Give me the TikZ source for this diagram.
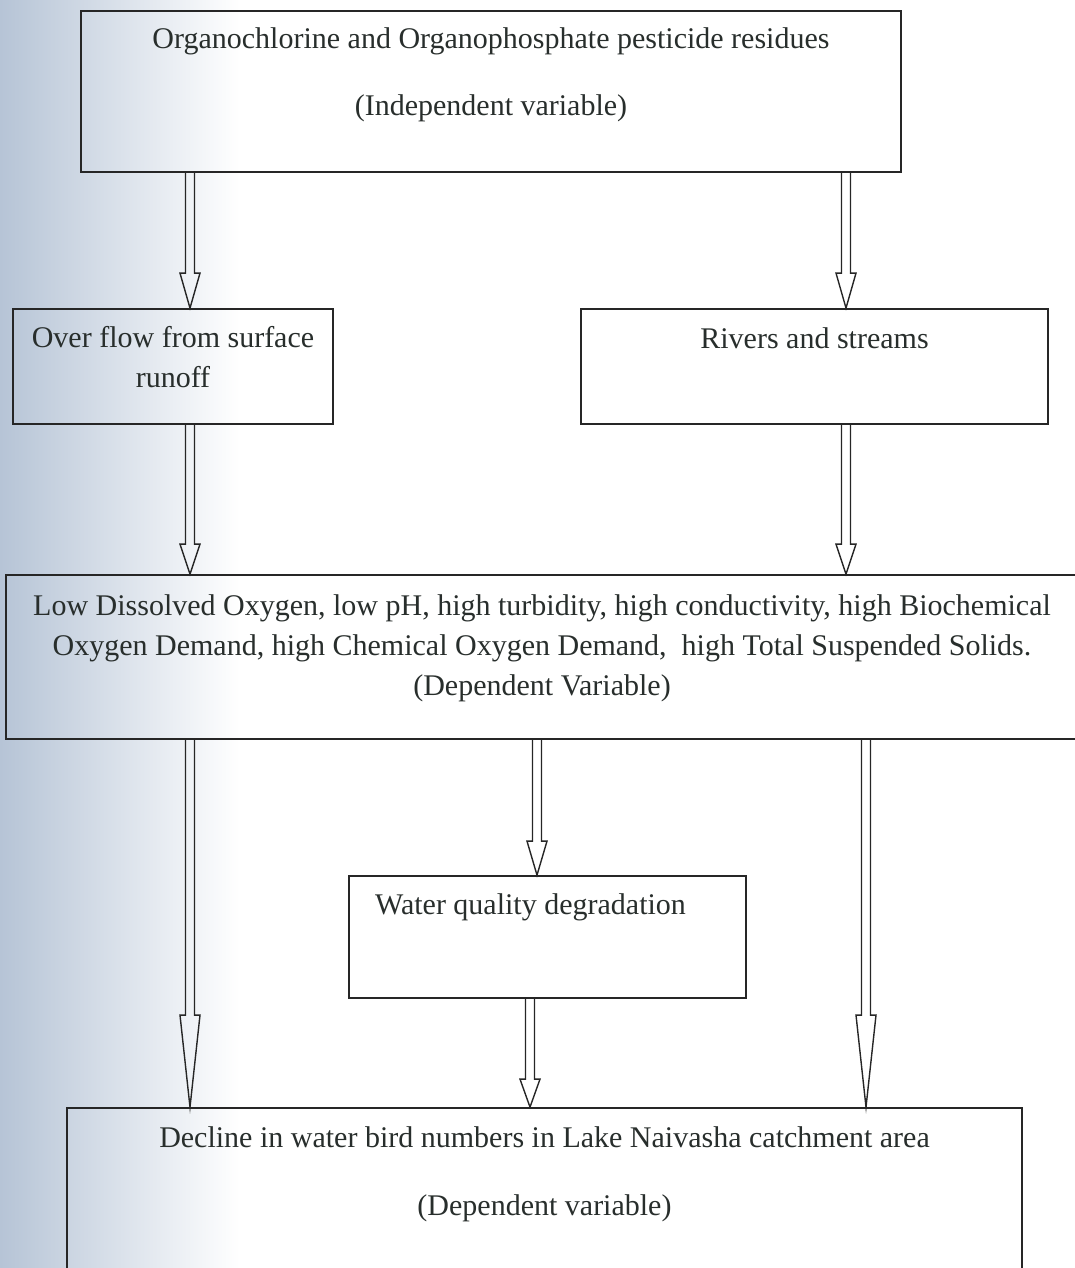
\documentclass[tikz,border=0pt]{standalone}
\usepackage{fontspec}
\setmainfont{Liberation Serif}
\usetikzlibrary{calc}
\definecolor{inktext}{RGB}{40,46,44}
\definecolor{boxline}{RGB}{38,38,38}
\definecolor{scanedge}{RGB}{182,196,214}
\definecolor{scanblue}{RGB}{224,232,243}
\newcommand{\padbelow}[1]{\rule[-#1]{0pt}{#1}}

\begin{document}
\begin{tikzpicture}[x=1pt, y=-1pt,
  box/.style={draw=boxline, line width=1.8pt, align=center, inner sep=0pt, text=inktext, font=\fontsize{30}{40}\selectfont},
  hollow/.style={draw=boxline, line width=1.4pt, line join=miter,
    to path={let \p1=(\tikztostart), \p2=(\tikztotarget) in
      (\x1-4.5pt,\y1) -- (\x1-4.5pt,\y2+#1) -- (\x1-10pt,\y2+#1) -- (\x1,\y2)
      -- (\x1+10pt,\y2+#1) -- (\x1+4.5pt,\y2+#1) -- (\x1+4.5pt,\y1)}},
  hollow/.default=33pt
]
\useasboundingbox (0,0) rectangle (1075,1268);
% scanner tint at the left edge
\shade[left color=scanedge, middle color=scanblue, right color=white] (0,0) rectangle (240,1268);

\node[box, minimum width=820, minimum height=161] (top) at (491,91.5)
  {Organochlorine and Organophosphate pesticide residues\\[27pt](Independent variable)\padbelow{40pt}};
\node[box, minimum width=320, minimum height=115] (ovf) at (173,366.5)
  {Over flow from surface\\runoff\padbelow{19pt}};
\node[box, minimum width=467, minimum height=115] (riv) at (814.5,366.5)
  {Rivers and streams\padbelow{57pt}};
\node[box, minimum width=1072, minimum height=164] (dep) at (542,657)
  {Low Dissolved Oxygen, low pH, high turbidity, high conductivity, high Biochemical\\
   Oxygen Demand, high Chemical Oxygen Demand,\ \ high Total Suspended Solids.\\
   (Dependent Variable)\padbelow{24pt}};
\node[box, minimum width=397, minimum height=122] (wq) at (547.5,937)
  {Water quality degradation\hspace*{34pt}\padbelow{65pt}};
\node[box, minimum width=955, minimum height=182] (bot) at (544.5,1199)
  {Decline in water bird numbers in Lake Naivasha catchment area\\[28pt](Dependent variable)\padbelow{56pt}};

% arrow columns
\coordinate (xl) at (190,0);
\coordinate (xr) at (846,0);
\coordinate (xm) at (537,0);
\coordinate (xw) at (530,0);
\coordinate (xrr) at (866,0);

\draw[hollow=35pt] (xl |- top.south) to (xl |- ovf.north);
\draw[hollow=35pt] (xr |- top.south) to (xr |- riv.north);
\draw[hollow=30pt] (xl |- ovf.south) to (xl |- dep.north);
\draw[hollow=30pt] (xr |- riv.south) to (xr |- dep.north);
\draw[hollow=34pt] (xm |- dep.south) to (xm |- wq.north);
\draw[hollow=92pt] (xl |- dep.south) to (xl |- bot.north);
\draw[hollow=92pt] (xrr |- dep.south) to (xrr |- bot.north);
\draw[hollow=28pt] (xw |- wq.south) to (xw |- bot.north);
\end{tikzpicture}
\end{document}
